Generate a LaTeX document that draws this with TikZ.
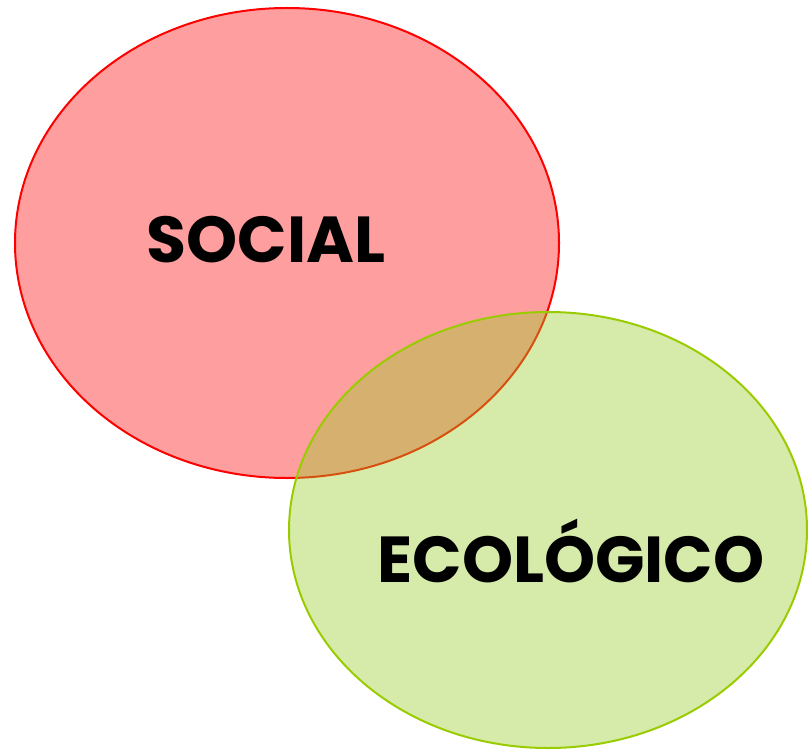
\documentclass[tikz,border=0pt]{standalone}
\usepackage{fontspec}
\setmainfont{Poppins}
\begin{document}
\begin{tikzpicture}[x=1pt,y=-1pt,
  redset/.style={draw={rgb,255:red,255;green,0;blue,0},line width=2pt,fill={rgb,255:red,255;green,158;blue,158}},
  greenset/.style={draw={rgb,255:red,153;green,204;blue,0},line width=2pt,fill={rgb,255:red,153;green,204;blue,40},fill opacity=0.4},
  lbl/.style={font=\fontsize{65}{68}\selectfont\bfseries,text=black,inner sep=0pt}]
\useasboundingbox (0,0) rectangle (808,751);
\path[redset] (287,243) ellipse [x radius=272, y radius=235];
\path[greenset] (548,530) ellipse [x radius=259, y radius=218];
\node[lbl,anchor=base] (social) at (266,262) {SOCIAL};
\node[lbl,anchor=base] (eco) at (571,582) {ECOLÓGICO};
\end{tikzpicture}
\end{document}
